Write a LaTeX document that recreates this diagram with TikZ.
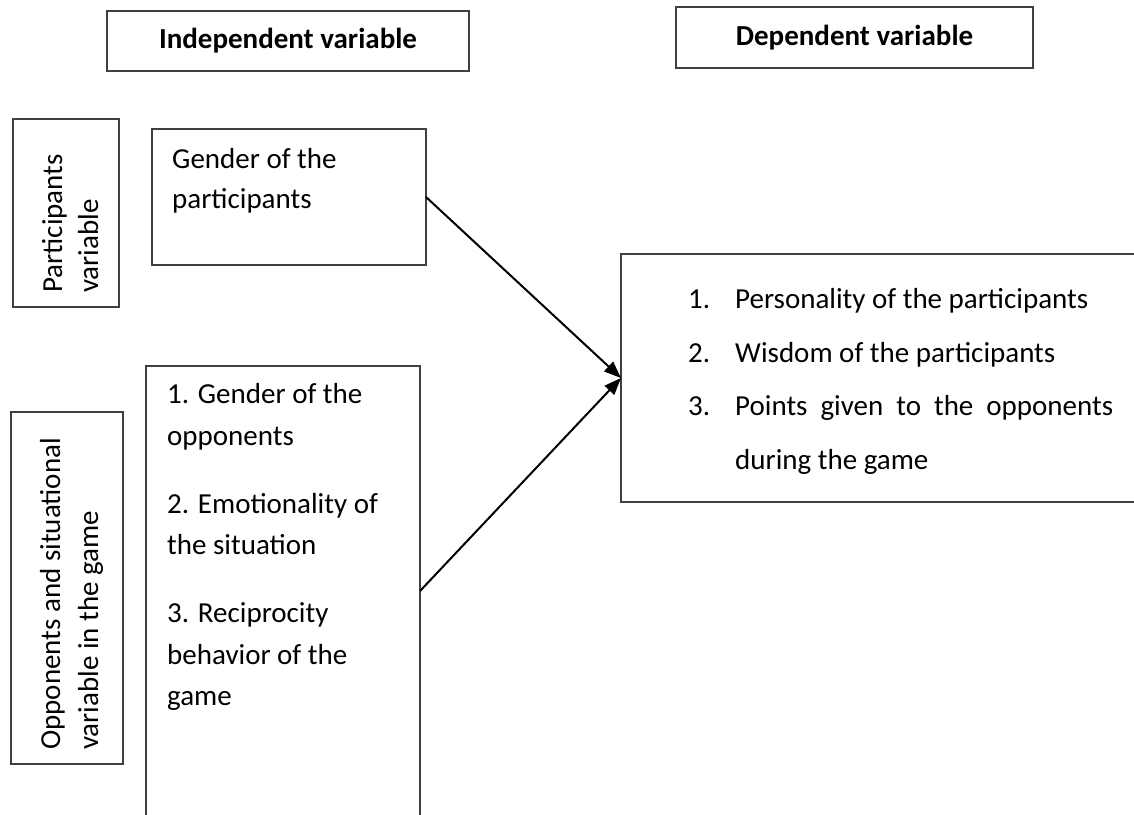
\documentclass[tikz,border=0pt]{standalone}
\usepackage{fontspec}
\setmainfont{Carlito}
\usetikzlibrary{arrows.meta}
\definecolor{boxc}{HTML}{404040}
\newcommand{\bodyfont}{\fontsize{29}{35}\selectfont}
\begin{document}
\begin{tikzpicture}[x=1pt,y=-1pt,
  box/.style={draw=boxc, line width=1.3pt, inner sep=0pt, outer sep=0pt},
  hdr/.style={font=\bodyfont\bfseries},
  txt/.style={anchor=base west, inner sep=0pt, font=\bodyfont},
  vtxt/.style={txt, rotate=90},
  arr/.style={line width=2pt, -{Triangle[length=17pt,width=13pt]}}]
\useasboundingbox (0,0) rectangle (1134,814);
% header boxes
\node[box, hdr, minimum width=362pt, minimum height=60pt] (indep) at (288,41) {Independent variable};
\node[box, hdr, minimum width=357pt, minimum height=61pt] (dep) at (854.5,37.5) {Dependent variable};
% side label boxes
\node[box, minimum width=106pt, minimum height=188pt] (part) at (66,213) {};
\node[vtxt] (parta) at (62,293) {Participants};
\node[vtxt] (partb) at (98,293) {variable};
\node[box, minimum width=112pt, minimum height=352pt] (opp) at (67,588) {};
\node[vtxt] (oppa) at (60,750) {Opponents and situational};
\node[vtxt] (oppb) at (98,750) {variable in the game};
% gender box
\node[box, minimum width=274pt, minimum height=136pt] (gender) at (289,197) {};
\node[txt] (ga) at (172,168) {Gender of the};
\node[txt] (gb) at (172,208) {participants};
% list box
\node[box, minimum width=274pt, minimum height=450pt] (list) at (283,591) {};
\node[txt] (la) at (167,403) {1. Gender of the};
\node[txt] (lb) at (167,445) {opponents};
\node[txt] (lc) at (167,513) {2. Emotionality of};
\node[txt] (ld) at (167,554) {the situation};
\node[txt] (le) at (167,622) {3. Reciprocity};
\node[txt] (lf) at (167,664) {behavior of the};
\node[txt] (lg) at (167,705) {game};
% dependent list box
\node[box, minimum width=519pt, minimum height=248pt] (right) at (880.5,378) {};
\node[txt] (n1) at (688,308) {1.};
\node[txt] (r1) at (735,308) {Personality of the participants};
\node[txt] (n2) at (688,362) {2.};
\node[txt] (r2) at (735,362) {Wisdom of the participants};
\node[txt] (n3) at (688,415) {3.};
\node[txt] (r3) at (735,415) {\makebox[378pt][s]{Points given to the opponents}};
\node[txt] (r4) at (735,469) {during the game};
% arrows
\draw[arr] (gender.east) -- (right.west);
\draw[arr] (list.east) -- (right.west);
\end{tikzpicture}
\end{document}
